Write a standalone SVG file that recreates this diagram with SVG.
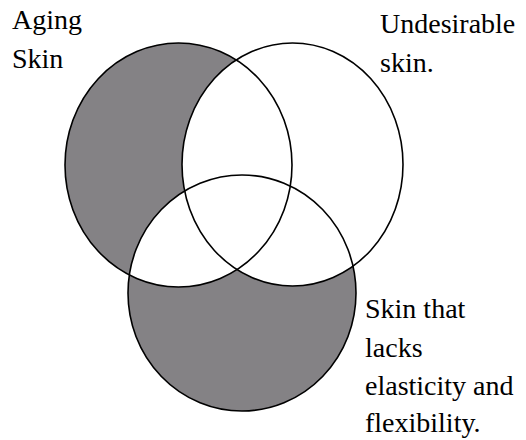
<svg xmlns="http://www.w3.org/2000/svg" width="526" height="440" viewBox="0 0 526 440">
<style>
.ring{fill:none;stroke:#000;stroke-width:1.6}
.shade{fill:#848285}
.blank{fill:#fff}
</style>
<defs>
<clipPath id="clipC"><ellipse cx="242" cy="293" rx="114" ry="118"/></clipPath>
</defs>
<rect width="526" height="440" fill="#fff"/>
<g id="fills">
<ellipse class="shade" cx="178.5" cy="165" rx="113.5" ry="122"/>
<ellipse class="shade" cx="242" cy="293" rx="114" ry="118"/>
<ellipse class="blank" cx="292.5" cy="164.5" rx="110.5" ry="121.5"/>
<ellipse class="blank" cx="178.5" cy="165" rx="113.5" ry="122" clip-path="url(#clipC)"/>
</g>
<g id="aging">
<ellipse class="ring" cx="178.5" cy="165" rx="113.5" ry="122"/>
<text x="12" y="29" font-family="Liberation Serif, DejaVu Serif, serif" font-size="28">Aging</text>
<text x="12" y="68" font-family="Liberation Serif, DejaVu Serif, serif" font-size="28">Skin</text>
</g>
<g id="undesirable">
<ellipse class="ring" cx="292.5" cy="164.5" rx="110.5" ry="121.5"/>
<text x="380" y="33" font-family="Liberation Serif, DejaVu Serif, serif" font-size="28">Undesirable</text>
<text x="380" y="72" font-family="Liberation Serif, DejaVu Serif, serif" font-size="28">skin.</text>
</g>
<g id="lacks">
<ellipse class="ring" cx="242" cy="293" rx="114" ry="118"/>
<text x="365" y="318" font-family="Liberation Serif, DejaVu Serif, serif" font-size="28">Skin that</text>
<text x="365" y="357" font-family="Liberation Serif, DejaVu Serif, serif" font-size="28">lacks</text>
<text x="365" y="395" font-family="Liberation Serif, DejaVu Serif, serif" font-size="28">elasticity and</text>
<text x="365" y="432" font-family="Liberation Serif, DejaVu Serif, serif" font-size="28">flexibility.</text>
</g>
<g id="connectors"/>
</svg>
